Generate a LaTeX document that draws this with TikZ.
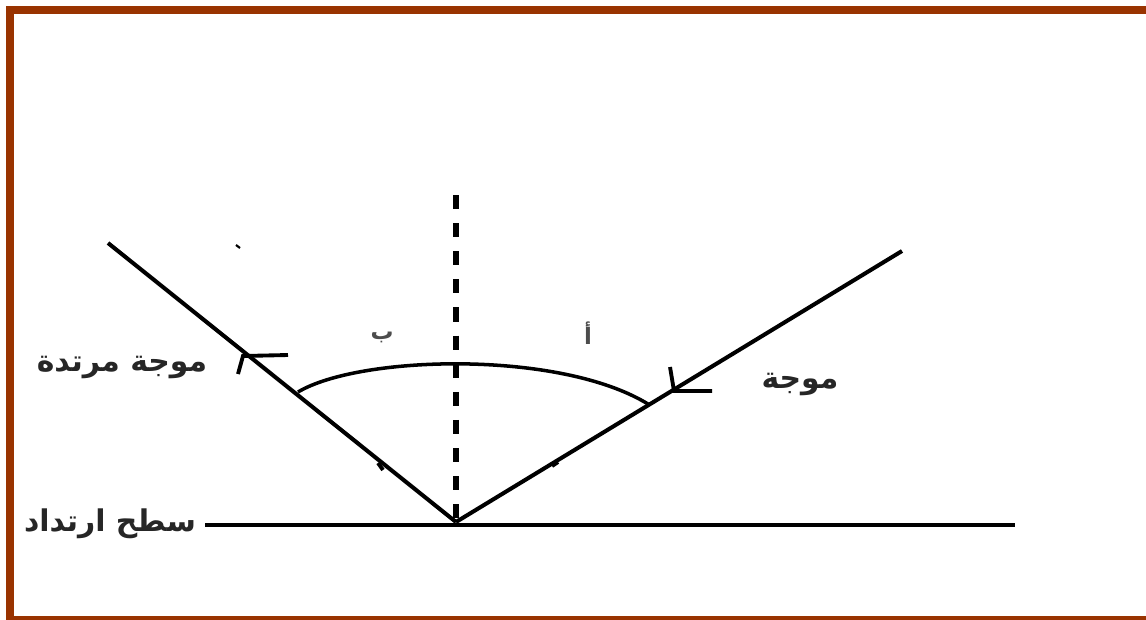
\documentclass[tikz,border=0pt]{standalone}
\usepackage{fontspec}
\usepackage{xcolor}
\usepackage{tikz}
\usetikzlibrary{positioning}
\newfontfamily\arabicfont[Script=Arabic]{DejaVu Sans}
\TeXXeTstate=1
\definecolor{framebrown}{RGB}{153,51,0}

\begin{document}
\begin{tikzpicture}[
    x=0.02cm, y=-0.02cm,
    font=\arabicfont\bfseries\fontsize{17}{20}\selectfont,
    ray/.style={line width=2.3pt, draw=black},
    normalline/.style={line width=3.4pt, draw=black, dash pattern=on 8pt off 8pt},
    wavemark/.style={line width=2.2pt, draw=black},
    lbl/.style={inner sep=1pt, text=black!85},
    anglelbl/.style={lbl, font=\arabicfont\bfseries\fontsize{13}{15}\selectfont, text=black!70}
]
\useasboundingbox (0,0) rectangle (1146,619);
\begin{scope}
\clip (0,0) rectangle (1146,619);
\draw[framebrown, line width=4.5pt] (10,10) rectangle (1155,620);
\end{scope}

% points of the rays
\coordinate (hit) at (456,522);
\coordinate (reflend) at (108,243);
\coordinate (incend) at (902,251);
\coordinate (normtop) at (456,195);
\coordinate (surfL) at (205,525);
\coordinate (surfR) at (1015,525);

% surface, normal and rays
\draw[ray] (surfL) -- (surfR);
\draw[normalline] (normtop) -- (hit);
\draw[ray] (reflend) -- (hit);
\draw[ray] (hit) -- (incend);

% angle arc
\coordinate (arcL) at (298,392);
\coordinate (arcR) at (648,404);
\draw[line width=2pt] (arcL) .. controls (360,355) and (560,350) .. (arcR);

% wave front marks
\draw[wavemark] (238,374) -- (243,356) -- (288,355);
\draw[wavemark] (670,367) -- (674,391) -- (712,391);
\draw[wavemark] (378,463) -- (383,470);
\draw[wavemark] (552,466) -- (558,462);
\draw[line width=1.2pt] (236,245) -- (240,248);

% labels
\node[lbl] (reflected) at (122,367) {\beginR موجة مرتدة\endR};
\node[lbl] (incident) at (800,384) {\beginR موجة\endR};
\node[lbl] (surface) at (110,524) {\beginR سطح ارتداد\endR};
\node[anglelbl] (angleb) at (382,337) {\beginR ب\endR};
\node[anglelbl] (anglea) at (588,333) {\beginR أ\endR};

\end{tikzpicture}
\end{document}
